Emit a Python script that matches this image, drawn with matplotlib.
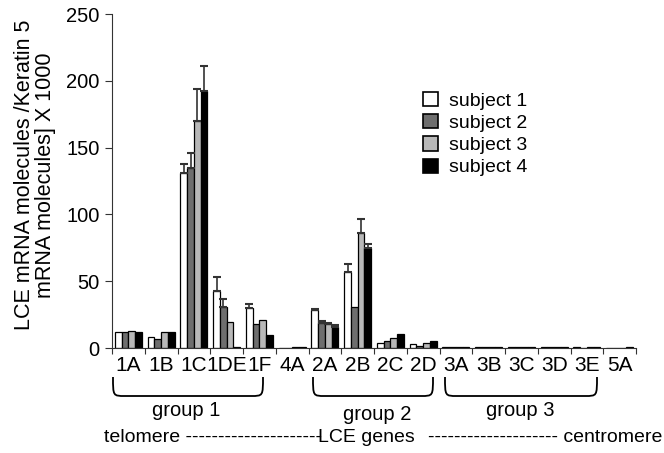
import numpy as np
import matplotlib
matplotlib.use("Agg")
import matplotlib.pyplot as plt
from matplotlib.path import Path
from matplotlib.patches import PathPatch, Patch
import matplotlib.transforms as mtransforms

plt.rcParams['font.family'] = ['Liberation Sans', 'DejaVu Sans']

genes = ["1A", "1B", "1C", "1DE", "1F", "4A", "2A", "2B", "2C", "2D",
         "3A", "3B", "3C", "3D", "3E", "5A"]
subjects = ["subject 1", "subject 2", "subject 3", "subject 4"]

subject1 = [11.7, 8.0, 131, 42.5, 29.7, 0.3, 28.4, 57.0, 4.0, 3.0, 0.6, 0.4, 0.5, 0.8, 0.4, 0.3]
subject2 = [11.7, 6.5, 135, 31.0, 17.7, 0.3, 18.5, 30.4, 5.5, 1.5, 0.5, 0.4, 0.6, 0.6, 0.3, 0.3]
subject3 = [13.0, 11.7, 170, 19.2, 21.0, 0.5, 17.7, 85.8, 7.2, 4.0, 0.6, 0.5, 0.7, 0.9, 0.4, 0.3]
subject4 = [12.0, 12.2, 192, 1.0, 9.7, 1.0, 15.5, 75.0, 10.5, 5.5, 1.0, 0.5, 0.9, 1.0, 0.5, 0.4]

err1 = [0, 0, 7, 10.5, 3.0, 0, 1.0, 5.6, 0, 0, 0, 0, 0, 0, 0, 0]
err2 = [0, 0, 11, 5.4, 0, 0, 1.5, 0, 0, 0, 0, 0, 0, 0, 0, 0]
err3 = [0, 0, 24, 0, 0, 0, 1.0, 11, 0, 0, 0, 0, 0, 0, 0, 0]
err4 = [0, 0, 19, 0, 0, 0, 1.5, 2.5, 0, 0, 0, 0, 0, 0, 0, 0]

groups = ["group 1", "group 2", "group 3"]

W, H = 664, 453
fig = plt.figure(figsize=(W / 100, H / 100), dpi=100)
ax = fig.add_axes([112 / W, 1 - 348 / H, (636 - 112) / W, (348 - 14) / H])

colors = ["#ffffff", "#6e6e6e", "#b8b8b8", "#000000"]
values = [subject1, subject2, subject3, subject4]
errs = [err1, err2, err3, err4]
x = np.arange(len(genes))
bw = 0.205
offsets = [-1.5 * bw, -0.5 * bw, 0.5 * bw, 1.5 * bw]
for vals, er, c, off, lab in zip(values, errs, colors, offsets, subjects):
    vals = np.array(vals, dtype=float)
    er = np.array(er, dtype=float)
    ax.bar(x + off, vals, width=bw, color=c, edgecolor="black", linewidth=0.9, label=lab, zorder=2)
    mask = er > 0
    ax.errorbar(x[mask] + off, vals[mask], yerr=[np.zeros(mask.sum()), er[mask]],
                fmt="none", ecolor="#333333", elinewidth=1.2, capsize=3, capthick=1.5, zorder=3)

ax.set_xlim(-0.5, len(genes) - 0.5)
ax.set_ylim(0, 250)
ax.set_yticks([0, 50, 100, 150, 200, 250])
ax.spines['top'].set_visible(False)
ax.spines['right'].set_visible(False)
ax.spines['left'].set_color("#333333")
ax.spines['bottom'].set_color("#333333")
ax.tick_params(axis='y', labelsize=14.5, length=5, direction='out', color="#333333", pad=4)
ax.set_xticks(np.arange(len(genes) + 1) - 0.5)
ax.set_xticklabels([])
ax.tick_params(axis='x', which='major', length=4, direction='out', color="#333333")
ax.set_xticks(x, minor=True)
ax.set_xticklabels(genes, minor=True)
ax.tick_params(axis='x', which='minor', length=0, labelsize=15, pad=6)

fig.text(35 / W, 1 - 175 / H, "LCE mRNA molecules /Keratin 5\nmRNA molecules] X 1000",
         rotation=90, ha="center", va="center", fontsize=15.5, multialignment="center",
         linespacing=0.95)

handles = [Patch(facecolor=c, edgecolor="black", linewidth=1.2) for c in colors]
fig.legend(handles, subjects, loc="upper left", bbox_to_anchor=(423 / W, 1 - 92 / H),
           frameon=False, fontsize=14, handlelength=0.75, handleheight=0.75,
           handletextpad=0.6, labelspacing=0.22, borderpad=0, borderaxespad=0)

# pixel transform (origin top-left)
pix = mtransforms.Affine2D().scale(1 / W, -1 / H).translate(0, 1) + fig.transFigure

def brace(x0, x1, ytop, ybot, r=12):
    verts = [(x0, ytop), (x0, ybot), (x0, ybot), (x0 + r, ybot),
             (x1 - r, ybot), (x1, ybot), (x1, ybot), (x1, ytop)]
    codes = [Path.MOVETO, Path.CURVE4, Path.CURVE4, Path.CURVE4,
             Path.LINETO, Path.CURVE4, Path.CURVE4, Path.CURVE4]
    p = PathPatch(Path(verts, codes), transform=pix, fill=False, edgecolor="black", linewidth=1.3)
    fig.add_artist(p)

brace_spans = [(113, 263), (313, 433), (445, 597)]
label_pos = [(186, 411), (377, 414), (520, 411)]
for (a, b), (lx, ly), g in zip(brace_spans, label_pos, groups):
    brace(a, b, 377, 396)
    fig.text(lx, ly, g, transform=pix, ha="center", va="center", fontsize=14.5)

fig.text(104, 437, "telomere " + "-" * 21, transform=pix, ha="left", va="center", fontsize=14)
fig.text(318, 437, "LCE genes", transform=pix, ha="left", va="center", fontsize=14)
fig.text(662, 437, "-" * 20 + " centromere", transform=pix, ha="right", va="center", fontsize=14)

fig.savefig("out.png", dpi=100)
